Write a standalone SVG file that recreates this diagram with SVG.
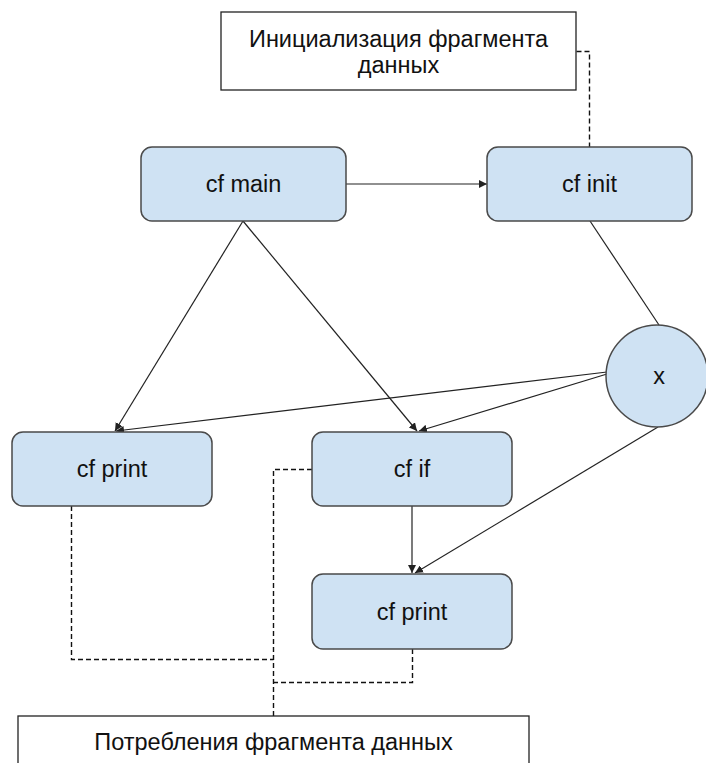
<svg xmlns="http://www.w3.org/2000/svg" width="706" height="763" viewBox="0 0 706 763">
<defs>
<style>
.node rect.cf, .node ellipse { fill:#cfe2f3; stroke:#4a4a4a; stroke-width:1.5; }
.note rect { fill:#ffffff; stroke:#222222; stroke-width:1.3; }
text { font-family:"Liberation Sans", Arial, sans-serif; font-size:23.5px; fill:#111111; text-anchor:middle; }
.conn line, .conn polyline { stroke:#222222; stroke-width:1.2; fill:none; }
.conn .dash { stroke:#111111; stroke-width:1.4; stroke-dasharray:5 3; }
</style>
<marker id="arr" viewBox="0 0 10 10" refX="10" refY="5" markerWidth="8" markerHeight="8" markerUnits="userSpaceOnUse" orient="auto">
<path d="M0,0 L10,5 L0,10 z" fill="#222222"/>
</marker>
</defs>
<rect width="706" height="763" fill="#ffffff"/>
<g class="conn">
<line x1="346" y1="184" x2="487" y2="184" marker-end="url(#arr)"/>
<line x1="243" y1="221" x2="115" y2="431" marker-end="url(#arr)"/>
<line x1="243" y1="221" x2="417" y2="431" marker-end="url(#arr)"/>
<line x1="590" y1="221" x2="659" y2="325"/>
<line x1="607" y1="372" x2="116" y2="431" marker-end="url(#arr)"/>
<line x1="607" y1="374" x2="419" y2="431" marker-end="url(#arr)"/>
<line x1="658" y1="427" x2="415" y2="573" marker-end="url(#arr)"/>
<line x1="412" y1="506" x2="412" y2="573" marker-end="url(#arr)"/>
<polyline class="dash" points="576.5,51.5 589.5,51.5 589.5,147"/>
<polyline class="dash" points="71.5,506 71.5,659.5 273.5,659.5"/>
<polyline class="dash" points="312,469.5 273.5,469.5 273.5,716"/>
<polyline class="dash" points="412.5,649 412.5,682.5 273.5,682.5"/>
</g>
<g id="init-note" class="note">
<rect x="221" y="12" width="355" height="78"/>
<text x="398.5" y="47">Инициализация фрагмента</text>
<text x="398.5" y="73">данных</text>
</g>
<g id="cf-main" class="node">
<rect class="cf" x="141" y="147" width="205" height="74" rx="11"/>
<text x="243.5" y="192">cf main</text>
</g>
<g id="cf-init" class="node">
<rect class="cf" x="487" y="147" width="205" height="74" rx="11"/>
<text x="589.5" y="192">cf init</text>
</g>
<g id="x" class="node">
<ellipse cx="657" cy="376" rx="51" ry="51"/>
<text x="659" y="384">x</text>
</g>
<g id="cf-print-1" class="node">
<rect class="cf" x="12" y="432" width="200" height="74" rx="11"/>
<text x="112" y="477">cf print</text>
</g>
<g id="cf-if" class="node">
<rect class="cf" x="312" y="432" width="200" height="74" rx="11"/>
<text x="412" y="477">cf if</text>
</g>
<g id="cf-print-2" class="node">
<rect class="cf" x="312" y="574" width="200" height="75" rx="11"/>
<text x="412" y="620">cf print</text>
</g>
<g id="consume-note" class="note">
<rect x="18" y="716" width="511" height="60"/>
<text x="273.5" y="750">Потребления фрагмента данных</text>
</g>
</svg>
